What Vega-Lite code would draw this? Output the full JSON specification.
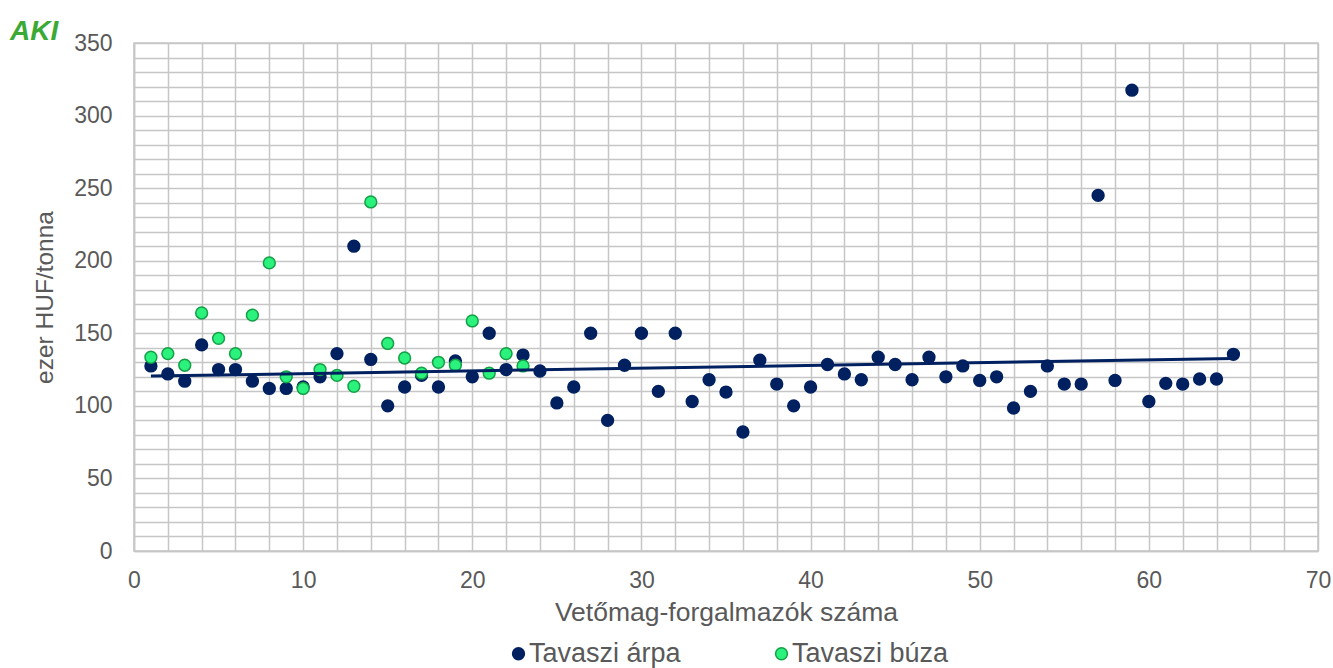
{
  "$schema": "https://vega.github.io/schema/vega-lite/v6.json",
  "width": 1184,
  "height": 508,
  "autosize": {"type": "none"},
  "padding": {"left": 134, "top": 43, "right": 15, "bottom": 117},
  "background": "white",
  "title": {"text": "AKI", "anchor": "start", "frame": "group", "dx": -124, "dy": 14, "offset": 0, "fontSize": 28, "fontWeight": "bold", "fontStyle": "italic", "color": "#3BAA35", "font": "Liberation Sans"},
  "config": {
    "font": "Liberation Sans",
    "view": {"stroke": "#C6C6C6", "strokeWidth": 1.5},
    "axis": {
      "gridColor": "#C6C6C6", "gridWidth": 1.5, "domainColor": "#C6C6C6", "domainWidth": 1.5,
      "ticks": false, "labelFontSize": 23, "labelColor": "#595959",
      "titleFontWeight": "normal", "titleColor": "#595959"
    },
    "legend": {"labelFontSize": 27, "labelColor": "#595959"}
  },
  "data": {
    "values": [
      {"n": 1, "price": 127.5, "series": "Tavaszi árpa"},
      {"n": 2, "price": 122, "series": "Tavaszi árpa"},
      {"n": 3, "price": 117, "series": "Tavaszi árpa"},
      {"n": 4, "price": 142, "series": "Tavaszi árpa"},
      {"n": 5, "price": 125, "series": "Tavaszi árpa"},
      {"n": 6, "price": 125, "series": "Tavaszi árpa"},
      {"n": 7, "price": 117, "series": "Tavaszi árpa"},
      {"n": 8, "price": 112, "series": "Tavaszi árpa"},
      {"n": 9, "price": 112, "series": "Tavaszi árpa"},
      {"n": 10, "price": 113, "series": "Tavaszi árpa"},
      {"n": 11, "price": 120, "series": "Tavaszi árpa"},
      {"n": 12, "price": 136, "series": "Tavaszi árpa"},
      {"n": 13, "price": 210, "series": "Tavaszi árpa"},
      {"n": 14, "price": 132, "series": "Tavaszi árpa"},
      {"n": 15, "price": 100, "series": "Tavaszi árpa"},
      {"n": 16, "price": 113, "series": "Tavaszi árpa"},
      {"n": 17, "price": 121, "series": "Tavaszi árpa"},
      {"n": 18, "price": 113, "series": "Tavaszi árpa"},
      {"n": 19, "price": 131, "series": "Tavaszi árpa"},
      {"n": 20, "price": 120, "series": "Tavaszi árpa"},
      {"n": 21, "price": 150, "series": "Tavaszi árpa"},
      {"n": 22, "price": 125, "series": "Tavaszi árpa"},
      {"n": 23, "price": 135, "series": "Tavaszi árpa"},
      {"n": 24, "price": 124, "series": "Tavaszi árpa"},
      {"n": 25, "price": 102, "series": "Tavaszi árpa"},
      {"n": 26, "price": 113, "series": "Tavaszi árpa"},
      {"n": 27, "price": 150, "series": "Tavaszi árpa"},
      {"n": 28, "price": 90, "series": "Tavaszi árpa"},
      {"n": 29, "price": 128, "series": "Tavaszi árpa"},
      {"n": 30, "price": 150, "series": "Tavaszi árpa"},
      {"n": 31, "price": 110, "series": "Tavaszi árpa"},
      {"n": 32, "price": 150, "series": "Tavaszi árpa"},
      {"n": 33, "price": 103, "series": "Tavaszi árpa"},
      {"n": 34, "price": 118, "series": "Tavaszi árpa"},
      {"n": 35, "price": 109.5, "series": "Tavaszi árpa"},
      {"n": 36, "price": 82, "series": "Tavaszi árpa"},
      {"n": 37, "price": 131.5, "series": "Tavaszi árpa"},
      {"n": 38, "price": 115, "series": "Tavaszi árpa"},
      {"n": 39, "price": 100, "series": "Tavaszi árpa"},
      {"n": 40, "price": 113, "series": "Tavaszi árpa"},
      {"n": 41, "price": 128.5, "series": "Tavaszi árpa"},
      {"n": 42, "price": 122, "series": "Tavaszi árpa"},
      {"n": 43, "price": 118, "series": "Tavaszi árpa"},
      {"n": 44, "price": 133.5, "series": "Tavaszi árpa"},
      {"n": 45, "price": 128.5, "series": "Tavaszi árpa"},
      {"n": 46, "price": 118, "series": "Tavaszi árpa"},
      {"n": 47, "price": 133.5, "series": "Tavaszi árpa"},
      {"n": 48, "price": 120, "series": "Tavaszi árpa"},
      {"n": 49, "price": 127.5, "series": "Tavaszi árpa"},
      {"n": 50, "price": 117.5, "series": "Tavaszi árpa"},
      {"n": 51, "price": 120, "series": "Tavaszi árpa"},
      {"n": 52, "price": 98.5, "series": "Tavaszi árpa"},
      {"n": 53, "price": 110, "series": "Tavaszi árpa"},
      {"n": 54, "price": 127.5, "series": "Tavaszi árpa"},
      {"n": 55, "price": 115, "series": "Tavaszi árpa"},
      {"n": 56, "price": 115, "series": "Tavaszi árpa"},
      {"n": 57, "price": 245, "series": "Tavaszi árpa"},
      {"n": 58, "price": 117.5, "series": "Tavaszi árpa"},
      {"n": 59, "price": 317.5, "series": "Tavaszi árpa"},
      {"n": 60, "price": 103, "series": "Tavaszi árpa"},
      {"n": 61, "price": 115.5, "series": "Tavaszi árpa"},
      {"n": 62, "price": 115, "series": "Tavaszi árpa"},
      {"n": 63, "price": 118.5, "series": "Tavaszi árpa"},
      {"n": 64, "price": 118.5, "series": "Tavaszi árpa"},
      {"n": 65, "price": 135.5, "series": "Tavaszi árpa"},
      {"n": 1, "price": 133.5, "series": "Tavaszi búza"},
      {"n": 2, "price": 136, "series": "Tavaszi búza"},
      {"n": 3, "price": 128, "series": "Tavaszi búza"},
      {"n": 4, "price": 164, "series": "Tavaszi búza"},
      {"n": 5, "price": 146.5, "series": "Tavaszi búza"},
      {"n": 6, "price": 136, "series": "Tavaszi búza"},
      {"n": 7, "price": 162.5, "series": "Tavaszi búza"},
      {"n": 8, "price": 198.5, "series": "Tavaszi búza"},
      {"n": 9, "price": 120, "series": "Tavaszi búza"},
      {"n": 10, "price": 112, "series": "Tavaszi búza"},
      {"n": 11, "price": 125, "series": "Tavaszi búza"},
      {"n": 12, "price": 121, "series": "Tavaszi búza"},
      {"n": 13, "price": 113.5, "series": "Tavaszi búza"},
      {"n": 14, "price": 240.5, "series": "Tavaszi búza"},
      {"n": 15, "price": 143, "series": "Tavaszi búza"},
      {"n": 16, "price": 133, "series": "Tavaszi búza"},
      {"n": 17, "price": 122.5, "series": "Tavaszi búza"},
      {"n": 18, "price": 130, "series": "Tavaszi búza"},
      {"n": 19, "price": 128, "series": "Tavaszi búza"},
      {"n": 20, "price": 158.5, "series": "Tavaszi búza"},
      {"n": 21, "price": 122.5, "series": "Tavaszi búza"},
      {"n": 22, "price": 136, "series": "Tavaszi búza"},
      {"n": 23, "price": 127.5, "series": "Tavaszi búza"}
    ]
  },
  "encoding": {
    "x": {
      "field": "n", "type": "quantitative",
      "scale": {"domain": [0, 70], "nice": false},
      "axis": {
        "values": [0,2,4,6,8,10,12,14,16,18,20,22,24,26,28,30,32,34,36,38,40,42,44,46,48,50,52,54,56,58,60,62,64,66,68,70],
        "labelExpr": "datum.value % 10 == 0 ? datum.label : ''",
        "title": "Vetőmag-forgalmazók száma", "titleFontSize": 26.5, "labelPadding": 18, "titlePadding": 7, "labelFlush": false
      }
    },
    "y": {
      "field": "price", "type": "quantitative",
      "scale": {"domain": [0, 350], "nice": false},
      "axis": {
        "values": [0,10,20,30,40,50,60,70,80,90,100,110,120,130,140,150,160,170,180,190,200,210,220,230,240,250,260,270,280,290,300,310,320,330,340,350],
        "labelExpr": "datum.value % 50 == 0 ? datum.label : ''",
        "title": "ezer HUF/tonna", "titleFontSize": 24.5, "labelPadding": 22, "titlePadding": 16
      }
    }
  },
  "layer": [
    {
      "mark": {"type": "circle", "size": 140, "opacity": 1, "strokeWidth": 1.5},
      "encoding": {
        "fill": {
          "field": "series", "type": "nominal",
          "scale": {"domain": ["Tavaszi árpa", "Tavaszi búza"], "range": ["#002060", "#2BF27C"]},
          "legend": {"orient": "none", "legendX": 371, "legendY": 597, "direction": "horizontal", "title": null, "symbolSize": 140, "columnPadding": 87, "labelOffset": -3, "symbolStrokeWidth": 1.5}
        },
        "stroke": {
          "field": "series", "type": "nominal",
          "scale": {"domain": ["Tavaszi árpa", "Tavaszi búza"], "range": ["#002060", "#14A046"]},
          "legend": {"orient": "none", "legendX": 371, "legendY": 597, "direction": "horizontal", "title": null, "symbolSize": 140, "columnPadding": 87, "labelOffset": -3, "symbolStrokeWidth": 1.5}
        }
      }
    },
    {
      "transform": [
        {"filter": "datum.series == 'Tavaszi árpa'"},
        {"regression": "price", "on": "n"}
      ],
      "mark": {"type": "line", "color": "#002060", "strokeWidth": 3}
    }
  ]
}
